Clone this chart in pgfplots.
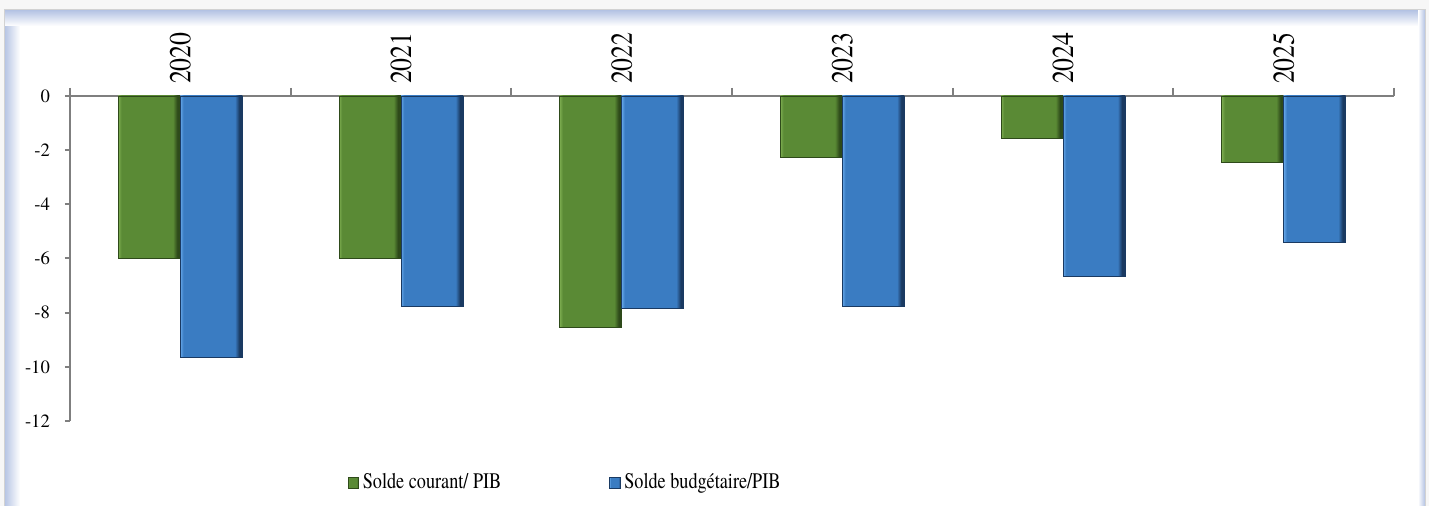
\documentclass[border=0pt]{standalone}
\usepackage{fontspec}
\setmainfont{TeX Gyre Termes}
\newfontfamily\tnr{TeX Gyre Termes}
\usepackage{pgfplots}
\pgfplotsset{compat=1.18}

\definecolor{gM}{HTML}{5A8A35}
\definecolor{gL}{HTML}{7DAD50}
\definecolor{gD}{HTML}{2E4A1A}
\definecolor{bM}{HTML}{3A7CC2}
\definecolor{bL}{HTML}{64A6E8}
\definecolor{bD}{HTML}{1A3A62}
\definecolor{frameblue}{HTML}{B3C2E3}
\definecolor{axisgray}{HTML}{7F7F7F}

\pgfdeclarehorizontalshading{greenbevel}{100bp}{color(0bp)=(gL); color(25bp)=(gL); color(27.5bp)=(gM); color(69bp)=(gM); color(72.5bp)=(gD); color(75bp)=(gD); color(100bp)=(gD)}
\pgfdeclarehorizontalshading{bluebevel}{100bp}{color(0bp)=(bL); color(25bp)=(bL); color(27.5bp)=(bM); color(69bp)=(bM); color(72.5bp)=(bD); color(75bp)=(bD); color(100bp)=(bD)}

\pgfplotsset{
  gbar/.style={shading=greenbevel, shade, draw=gD, line width=0.3pt, bar shift=-15.5pt},
  bbar/.style={shading=bluebevel, shade, draw=bD, line width=0.3pt, bar shift=15.5pt},
}

\begin{document}
\begin{tikzpicture}
\useasboundingbox (0,0) rectangle (714.5pt,-253pt);
\fill[gray!6] (0,0) rectangle (714.5pt,-253pt);
\fill[white] (2pt,-5pt) rectangle (712.5pt,-260pt);
% frame gradient
\shade[left color=frameblue, right color=white] (2pt,-5pt) rectangle (10pt,-260pt);
\shade[top color=frameblue, bottom color=white] (2pt,-5pt) rectangle (712.5pt,-13pt);
\shade[left color=white, right color=frameblue] (709pt,-5pt) rectangle (712.5pt,-260pt);
\draw[gray!35, line width=0.5pt] (2pt,-260pt) -- (2pt,-5pt) -- (712.5pt,-5pt) -- (712.5pt,-260pt);

\begin{axis}[
  at={(35pt,-210.5pt)}, anchor=south west,
  width=662pt, height=162.5pt, scale only axis,
  xmin=-0.5, xmax=5.5, ymin=-12, ymax=0,
  axis x line*=top, axis y line*=left,
  axis line style={axisgray, line width=1pt},
  tick style={axisgray, line width=1pt},
  tick align=outside,
  major tick length=2.5pt,
  minor tick length=4pt,
  xtick={0,1,2,3,4,5},
  xticklabels={\scalebox{1}[1.18]{2020},\scalebox{1}[1.18]{2021},\scalebox{1}[1.18]{2022},\scalebox{1}[1.18]{2023},\scalebox{1}[1.18]{2024},\scalebox{1}[1.18]{2025}},
  major x tick style={draw=none},
  minor xtick={-0.5,0.5,1.5,2.5,3.5,4.5,5.5},
  xticklabel style={rotate=90, anchor=west, font=\tnr\fontsize{12.9}{14}\selectfont},
  ytick={-12,-10,-8,-6,-4,-2,0},
  yticklabels={-12,-10,-8,-6,-4,-2,0},
  yticklabel style={font=\tnr\fontsize{9.35}{11}\selectfont, xshift=-4pt},
  ybar=0pt, bar width=31pt,
  legend image code/.code={\path[#1] (0pt,-2.6pt) rectangle (5.2pt,2.6pt);},
  legend style={at={(axis description cs:0.205,-0.19)}, anchor=west, draw=none, fill=none,
    legend columns=2, font=\tnr\fontsize{9.1}{11}\selectfont,
    /tikz/every even column/.append style={column sep=52pt}},
  clip=false,
]
% Solde courant / PIB
\addplot[gbar] coordinates {(0,-6.0)};
\addlegendentry{\scalebox{1}[1.22]{Solde courant/ PIB}}
% Solde budgetaire / PIB
\addplot[bbar] coordinates {(0,-9.65)};
\addlegendentry{\scalebox{1}[1.22]{Solde budgétaire/PIB}}
\addplot[gbar, forget plot] coordinates {(1,-6.0)};
\addplot[gbar, forget plot] coordinates {(2,-8.55)};
\addplot[gbar, forget plot] coordinates {(3,-2.25)};
\addplot[gbar, forget plot] coordinates {(4,-1.55)};
\addplot[gbar, forget plot] coordinates {(5,-2.45)};
\addplot[bbar, forget plot] coordinates {(1,-7.75)};
\addplot[bbar, forget plot] coordinates {(2,-7.85)};
\addplot[bbar, forget plot] coordinates {(3,-7.75)};
\addplot[bbar, forget plot] coordinates {(4,-6.65)};
\addplot[bbar, forget plot] coordinates {(5,-5.4)};
\end{axis}
\end{tikzpicture}
\end{document}
